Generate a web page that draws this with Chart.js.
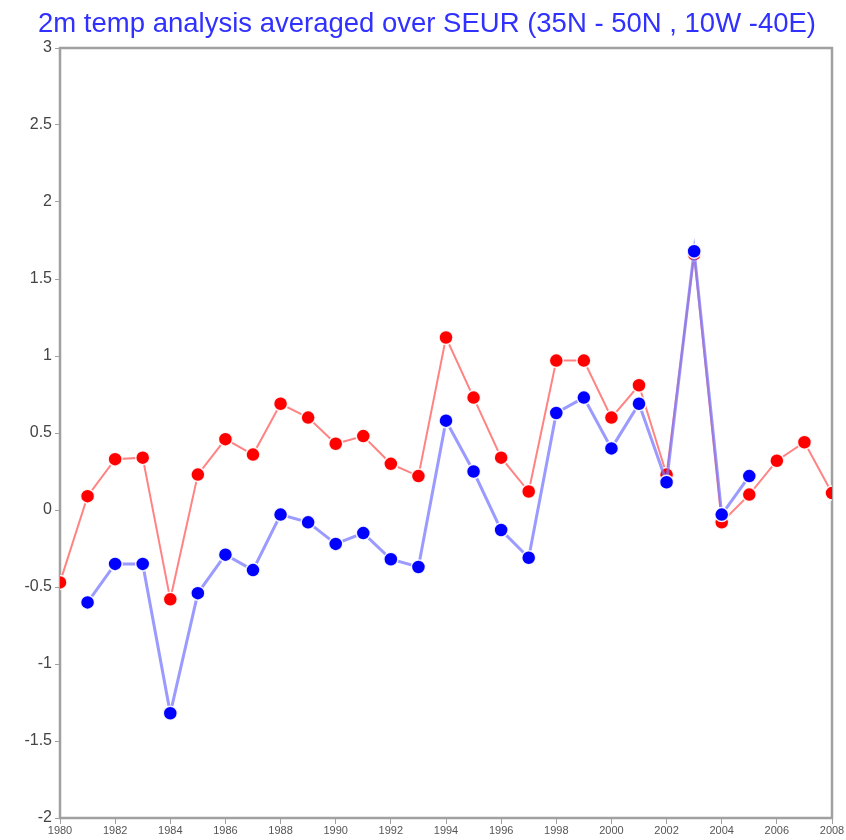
<!DOCTYPE html>
<html><head><meta charset="utf-8">
<script src="https://cdn.jsdelivr.net/npm/chart.js@4/dist/chart.umd.min.js"></script>
<style>html,body{margin:0;padding:0;background:#fff}#wrap{width:846px;height:840px}</style>
</head><body><div id="wrap"><canvas id="c" width="846" height="840"></canvas></div>
<script>
const titleText = "2m temp analysis averaged over SEUR (35N - 50N , 10W -40E)";
const redYears = [1980,1981,1982,1983,1984,1985,1986,1987,1988,1989,1990,1991,1992,1993,1994,1995,1996,1997,1998,1999,2000,2001,2002,2003,2004,2005,2006,2007,2008];
const redValues = [-0.47,0.09,0.33,0.34,-0.58,0.23,0.46,0.36,0.69,0.60,0.43,0.48,0.30,0.22,1.12,0.73,0.34,0.12,0.97,0.97,0.60,0.81,0.23,1.66,-0.08,0.10,0.32,0.44,0.11];
const blueYears = [1981,1982,1983,1984,1985,1986,1987,1988,1989,1990,1991,1992,1993,1994,1995,1996,1997,1998,1999,2000,2001,2002,2003,2004,2005];
const blueValues = [-0.60,-0.35,-0.35,-1.32,-0.54,-0.29,-0.39,-0.03,-0.08,-0.22,-0.15,-0.32,-0.37,0.58,0.25,-0.13,-0.31,0.63,0.73,0.40,0.69,0.18,1.68,-0.03,0.22];

const boxPlugin = {
  id: 'box',
  beforeDatasetsDraw(chart) {
    const a = chart.chartArea, ctx = chart.ctx;
    ctx.save();
    ctx.strokeStyle = '#a0a0a0';
    ctx.lineWidth = 2.5;
    ctx.strokeRect(a.left, a.top, a.right - a.left, a.bottom - a.top);
    ctx.restore();
  }
};

new Chart(document.getElementById('c'), {
  type: 'line',
  data: {
    datasets: [
      {
        order: 2,
        data: redYears.map((x, i) => ({x, y: redValues[i]})),
        borderColor: 'rgba(255,100,100,0.8)',
        borderWidth: 2,
        pointRadius: 7,
        pointBackgroundColor: '#ff0000',
        pointBorderColor: 'rgba(255,255,255,0.9)',
        pointBorderWidth: 1.5,
        tension: 0
      },
      {
        order: 1,
        data: blueYears.map((x, i) => ({x, y: blueValues[i]})),
        borderColor: 'rgba(120,120,255,0.75)',
        borderWidth: 3,
        pointRadius: 7,
        pointBackgroundColor: '#0000ff',
        pointBorderColor: 'rgba(255,255,255,0.9)',
        pointBorderWidth: 1.5,
        tension: 0
      }
    ]
  },
  plugins: [boxPlugin],
  options: {
    responsive: false,
    animation: false,
    layout: { padding: { left: 22, right: 14, top: 0, bottom: 0 } },
    plugins: {
      legend: { display: false },
      tooltip: { enabled: false },
      title: {
        display: true,
        text: titleText,
        color: '#3030ff',
        font: { family: 'Liberation Sans', size: 27.5, weight: 'normal' },
        padding: { top: 8, bottom: 7 }
      }
    },
    scales: {
      x: {
        type: 'linear',
        min: 1980, max: 2008,
        grid: { display: true, drawOnChartArea: false, drawTicks: true, tickLength: 6, color: '#a0a0a0' },
        border: { display: false },
        afterFit(s) { s.height = 22; },
        ticks: {
          stepSize: 2, autoSkip: false, maxRotation: 0, padding: 0,
          color: '#555', font: { family: 'Liberation Sans', size: 11 },
          callback: v => String(v)
        }
      },
      y: {
        min: -2, max: 3,
        grid: { display: true, drawOnChartArea: false, drawTicks: true, tickLength: 5, color: '#a0a0a0' },
        border: { display: false },
        afterFit(s) { s.width = 38; },
        ticks: {
          stepSize: 0.5, padding: 3,
          color: '#444', font: { family: 'Liberation Sans', size: 16 },
          callback: v => String(Math.round(v * 10) / 10)
        }
      }
    }
  }
});
</script>
</body></html>
